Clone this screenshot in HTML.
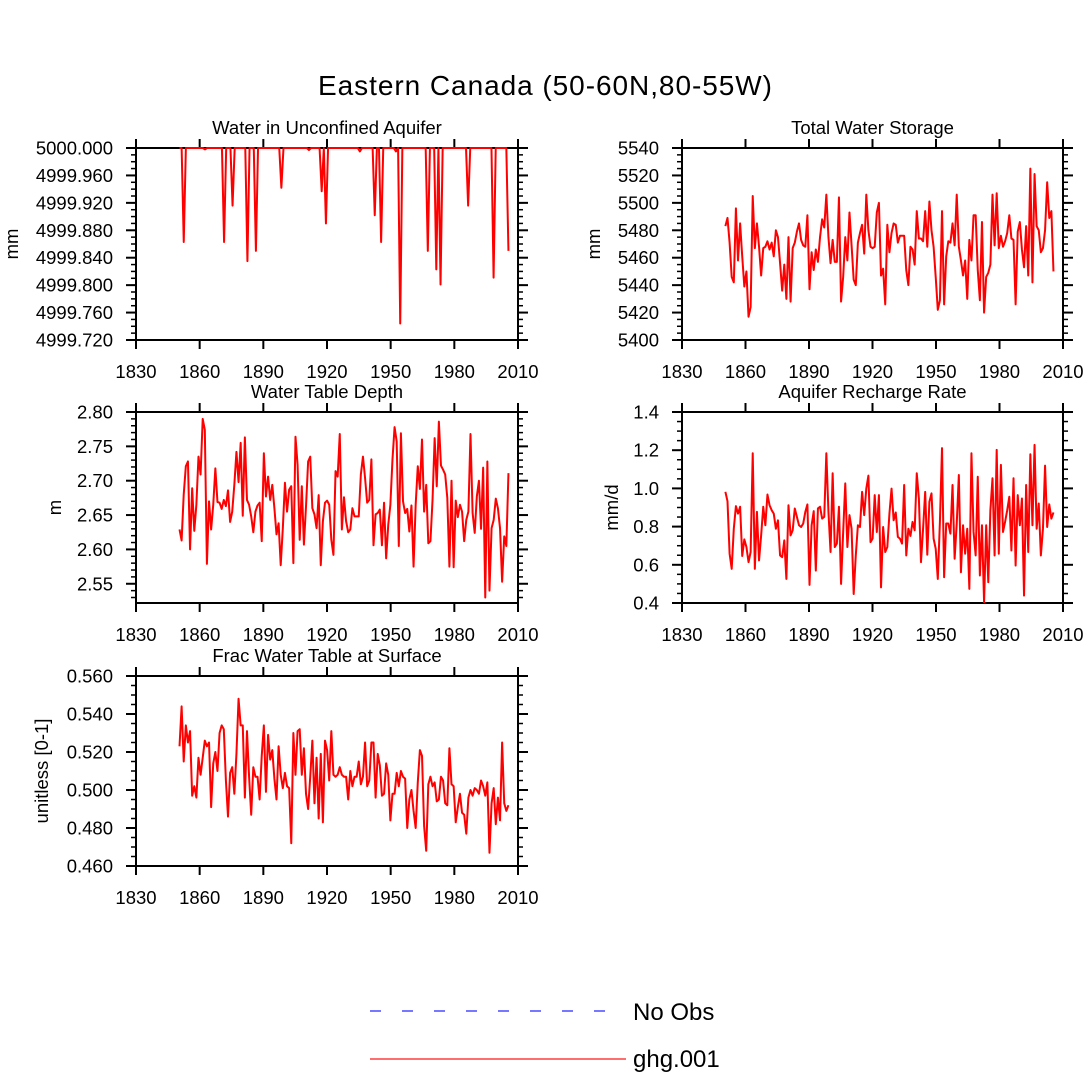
<!DOCTYPE html>
<html><head><meta charset="utf-8"><style>
html,body{margin:0;padding:0;background:#fff;}
svg{display:block;font-family:"Liberation Sans",Arial,sans-serif;}
</style></head>
<body>
<svg id="chart" width="1090" height="1090" viewBox="0 0 1090 1090" xmlns="http://www.w3.org/2000/svg">
<text x="545" y="95" font-size="28" text-anchor="middle" textLength="454">Eastern Canada (50-60N,80-55W)</text>
<g>
<line x1="370" y1="1011" x2="615" y2="1011" stroke="#7777ff" stroke-width="2" stroke-dasharray="11,21"/>
<text x="633" y="1020" font-size="24">No Obs</text>
<line x1="370" y1="1059" x2="626" y2="1059" stroke="#ff6e6e" stroke-width="2"/>
<text x="633" y="1067" font-size="24">ghg.001</text>
</g>
</svg>
<script>
const xTicks = [1830,1860,1890,1920,1950,1980,2010];

const aquiferSpikeYears = [1852,1862,1871,1875,1882,1886,1898,1911,1917,1919,1935,1942,1945,1952,1954,1967,1971,1973,1986,1998,2005];
const aquiferSpikeValues = [4999.863,4999.998,4999.863,4999.916,4999.835,4999.850,4999.942,4999.997,4999.937,4999.890,4999.995,4999.902,4999.863,4999.995,4999.744,4999.850,4999.823,4999.801,4999.916,4999.811,4999.850];
const aquiferBase = 5000.0;

const storage = [5483,5489,5471,5446,5442,5496,5458,5485,5461,5439,5450,5417,5424,5505,5467,5485,5468,5447,5467,5468,5472,5466,5471,5461,5480,5475,5456,5436,5455,5430,5475,5428,5467,5471,5479,5485,5473,5469,5468,5491,5437,5464,5451,5466,5457,5475,5488,5482,5506,5475,5456,5473,5457,5457,5504,5428,5446,5475,5458,5493,5469,5444,5440,5471,5478,5484,5463,5506,5480,5468,5467,5468,5493,5500,5447,5452,5426,5484,5464,5478,5485,5484,5471,5476,5476,5476,5451,5440,5468,5466,5455,5494,5474,5474,5472,5494,5468,5501,5480,5468,5446,5422,5429,5494,5426,5461,5472,5471,5485,5469,5506,5468,5458,5447,5458,5430,5473,5458,5491,5491,5451,5429,5486,5420,5446,5449,5455,5506,5469,5507,5467,5476,5468,5472,5478,5491,5474,5473,5426,5479,5486,5466,5453,5483,5447,5525,5442,5521,5483,5480,5464,5467,5480,5515,5489,5494,5450];

const depth = [2.629,2.613,2.680,2.721,2.728,2.600,2.689,2.627,2.665,2.735,2.709,2.790,2.774,2.579,2.670,2.629,2.665,2.718,2.669,2.668,2.659,2.672,2.663,2.686,2.640,2.655,2.694,2.742,2.698,2.755,2.649,2.763,2.672,2.665,2.648,2.625,2.655,2.664,2.668,2.612,2.740,2.677,2.706,2.672,2.694,2.660,2.622,2.638,2.577,2.631,2.697,2.655,2.687,2.692,2.580,2.764,2.723,2.614,2.692,2.607,2.663,2.728,2.735,2.660,2.651,2.631,2.679,2.577,2.641,2.668,2.671,2.665,2.614,2.592,2.714,2.706,2.768,2.629,2.676,2.641,2.625,2.629,2.660,2.648,2.648,2.648,2.709,2.735,2.704,2.668,2.672,2.731,2.606,2.651,2.653,2.658,2.606,2.668,2.587,2.636,2.665,2.731,2.778,2.757,2.605,2.769,2.670,2.653,2.659,2.626,2.664,2.575,2.665,2.721,2.688,2.760,2.655,2.694,2.609,2.612,2.672,2.762,2.692,2.786,2.722,2.716,2.709,2.675,2.575,2.700,2.574,2.671,2.647,2.665,2.655,2.612,2.643,2.655,2.768,2.653,2.624,2.677,2.700,2.630,2.719,2.530,2.728,2.540,2.631,2.643,2.674,2.660,2.631,2.553,2.619,2.605,2.711];

const recharge = [0.982,0.933,0.658,0.579,0.789,0.907,0.868,0.904,0.646,0.733,0.693,0.614,0.667,1.184,0.579,0.877,0.623,0.754,0.904,0.807,0.968,0.912,0.886,0.868,0.789,0.833,0.649,0.640,0.728,0.526,0.912,0.754,0.781,0.895,0.851,0.807,0.798,0.816,0.877,0.916,0.495,0.807,0.881,0.570,0.895,0.904,0.842,0.851,1.184,0.877,0.667,1.079,0.693,0.711,0.904,0.500,0.772,1.026,0.693,0.860,0.789,0.447,0.649,0.807,0.798,0.982,0.860,0.999,1.067,0.719,0.737,0.965,0.772,0.965,0.482,0.798,0.667,0.693,0.868,0.999,0.833,0.874,0.746,0.737,0.711,1.018,0.649,0.789,0.751,0.825,0.781,1.079,0.947,0.614,0.789,0.982,0.653,0.930,0.974,0.737,0.684,0.526,0.825,1.211,0.535,0.816,0.816,0.763,1.018,0.632,0.816,1.070,0.561,0.807,0.658,0.789,0.474,1.184,0.772,0.649,1.061,0.544,0.807,0.404,0.807,0.509,0.886,1.053,0.649,1.202,0.658,1.123,0.772,0.825,0.886,0.956,0.675,1.053,0.596,0.965,0.807,0.947,0.439,1.018,0.667,1.179,0.807,1.228,0.789,0.921,0.649,0.789,1.119,0.798,0.916,0.842,0.874];

const fracSurface = [0.523,0.544,0.515,0.534,0.525,0.531,0.497,0.502,0.496,0.517,0.508,0.517,0.526,0.523,0.525,0.491,0.514,0.520,0.510,0.530,0.534,0.532,0.505,0.486,0.509,0.512,0.498,0.519,0.548,0.534,0.534,0.496,0.531,0.507,0.487,0.512,0.507,0.507,0.495,0.518,0.534,0.499,0.529,0.516,0.521,0.506,0.495,0.523,0.508,0.501,0.509,0.502,0.501,0.472,0.530,0.508,0.531,0.532,0.508,0.522,0.498,0.490,0.507,0.526,0.493,0.517,0.485,0.519,0.483,0.526,0.521,0.505,0.531,0.508,0.507,0.508,0.512,0.508,0.507,0.507,0.495,0.510,0.502,0.507,0.507,0.515,0.503,0.507,0.525,0.502,0.505,0.525,0.525,0.496,0.519,0.513,0.497,0.498,0.514,0.508,0.484,0.498,0.498,0.509,0.502,0.510,0.507,0.506,0.480,0.495,0.500,0.489,0.480,0.504,0.521,0.518,0.481,0.468,0.503,0.507,0.502,0.504,0.494,0.495,0.507,0.505,0.493,0.492,0.522,0.503,0.502,0.483,0.491,0.498,0.488,0.487,0.477,0.496,0.500,0.497,0.501,0.500,0.498,0.505,0.502,0.497,0.504,0.467,0.493,0.501,0.482,0.496,0.484,0.525,0.493,0.489,0.492];

const SVGNS = "http://www.w3.org/2000/svg";
const svg = document.getElementById('chart');
function mk(tag, attrs, parent){
  const e = document.createElementNS(SVGNS, tag);
  for (const k in attrs) e.setAttribute(k, attrs[k]);
  (parent||svg).appendChild(e);
  return e;
}

const aquifer = [];
for (let y = 1850; y <= 2005; y++) {
  const k = aquiferSpikeYears.indexOf(y);
  aquifer.push(k >= 0 ? aquiferSpikeValues[k] : aquiferBase);
}

const panels = [
  {key:'aquifer', title:'Water in Unconfined Aquifer', ylab:'mm', yLabX:12, x0:136,x1:518,y0:148,y1:340, ymin:4999.72,ymax:5000.0, majors:[5000.0,4999.96,4999.92,4999.88,4999.84,4999.80,4999.76,4999.72], minorStep:0.01, dec:3, data:aquifer},
  {key:'storage', title:'Total Water Storage', ylab:'mm', yLabX:594, x0:682,x1:1063,y0:148,y1:340, ymin:5400,ymax:5540, majors:[5540,5520,5500,5480,5460,5440,5420,5400], minorStep:5, dec:0, data:storage},
  {key:'depth', title:'Water Table Depth', ylab:'m', yLabX:55, x0:136,x1:518,y0:412,y1:603, ymin:2.522,ymax:2.80, majors:[2.80,2.75,2.70,2.65,2.60,2.55], minorStep:0.01, dec:2, data:depth},
  {key:'recharge', title:'Aquifer Recharge Rate', ylab:'mm/d', yLabX:612, x0:682,x1:1063,y0:412,y1:603, ymin:0.4,ymax:1.4, majors:[1.4,1.2,1.0,0.8,0.6,0.4], minorStep:0.05, dec:1, data:recharge},
  {key:'frac', title:'Frac Water Table at Surface', ylab:'unitless [0-1]', yLabX:42, x0:136,x1:518,y0:676,y1:866, ymin:0.46,ymax:0.56, majors:[0.56,0.54,0.52,0.50,0.48,0.46], minorStep:0.005, dec:3, data:fracSurface}
];

panels.forEach(p => {
  const g = mk('g', {});
  
  
  const xs = v => p.x0 + (v - 1830) / 180 * (p.x1 - p.x0);
  const ys = v => p.y1 - (v - p.ymin) / (p.ymax - p.ymin) * (p.y1 - p.y0);

  // box
  const box = mk('rect', {x:p.x0, y:p.y0, width:p.x1-p.x0, height:p.y1-p.y0, fill:'none', stroke:'#000', 'stroke-width':'2'}, g);
  
  

  // x ticks
  xTicks.forEach(t => {
    const x = xs(t);
    mk('line', {x1:x, y1:p.y1, x2:x, y2:p.y1+9, stroke:'#000','stroke-width':'2'}, g);
    mk('line', {x1:x, y1:p.y0, x2:x, y2:p.y0-9, stroke:'#000','stroke-width':'2'}, g);
    const tl = mk('text', {x:x, y:p.y1+38, 'font-size':'18.5', 'text-anchor':'middle'}, g);
    tl.textContent = t;
    
    
  });
  const nMinor = Math.round((p.ymax - p.ymin) / p.minorStep);
  for (let k = 0; k <= nMinor; k++) {
    const v = p.ymax - k * p.minorStep;
    if (v < p.ymin - 1e-9) break;
    const y = ys(v);
    mk('line', {x1:p.x0, y1:y, x2:p.x0-5, y2:y, stroke:'#000','stroke-width':'1.5'}, g);
    mk('line', {x1:p.x1, y1:y, x2:p.x1+5, y2:y, stroke:'#000','stroke-width':'1.5'}, g);
  }
  p.majors.forEach(v => {
    const y = ys(v);
    mk('line', {x1:p.x0, y1:y, x2:p.x0-10, y2:y, stroke:'#000','stroke-width':'2'}, g);
    mk('line', {x1:p.x1, y1:y, x2:p.x1+10, y2:y, stroke:'#000','stroke-width':'2'}, g);
    const tl = mk('text', {x:p.x0-23, y:y+6.5, 'font-size':'18.5', 'text-anchor':'end'}, g);
    tl.textContent = v.toFixed(p.dec);
    
    
  });

  // series (drawn over frame)
  const n = p.data.length;
  let d = '';
  p.data.forEach((v, i) => {
    const yr = 1850.5 + i * 155 / (n - 1);
    d += (i ? 'L' : 'M') + xs(yr).toFixed(2) + ',' + ys(v).toFixed(2);
  });
  const line = mk('path', {d:d, fill:'none', stroke:'#ff0000', 'stroke-width':'2', 'stroke-linejoin':'round'}, g);
  
  

  const tt = mk('text', {x:(p.x0+p.x1)/2, y:p.y0-14, 'font-size':'18.5', 'text-anchor':'middle'}, g);
  tt.textContent = p.title;
  
  
  const cy = (p.y0 + p.y1) / 2;
  const yl = mk('text', {x:p.yLabX, y:cy, 'font-size':'18.5', 'text-anchor':'middle', transform:'rotate(-90 '+p.yLabX+' '+cy+')', dy:'6'}, g);
  yl.textContent = p.ylab;
  
  
});
</script>
</body></html>
